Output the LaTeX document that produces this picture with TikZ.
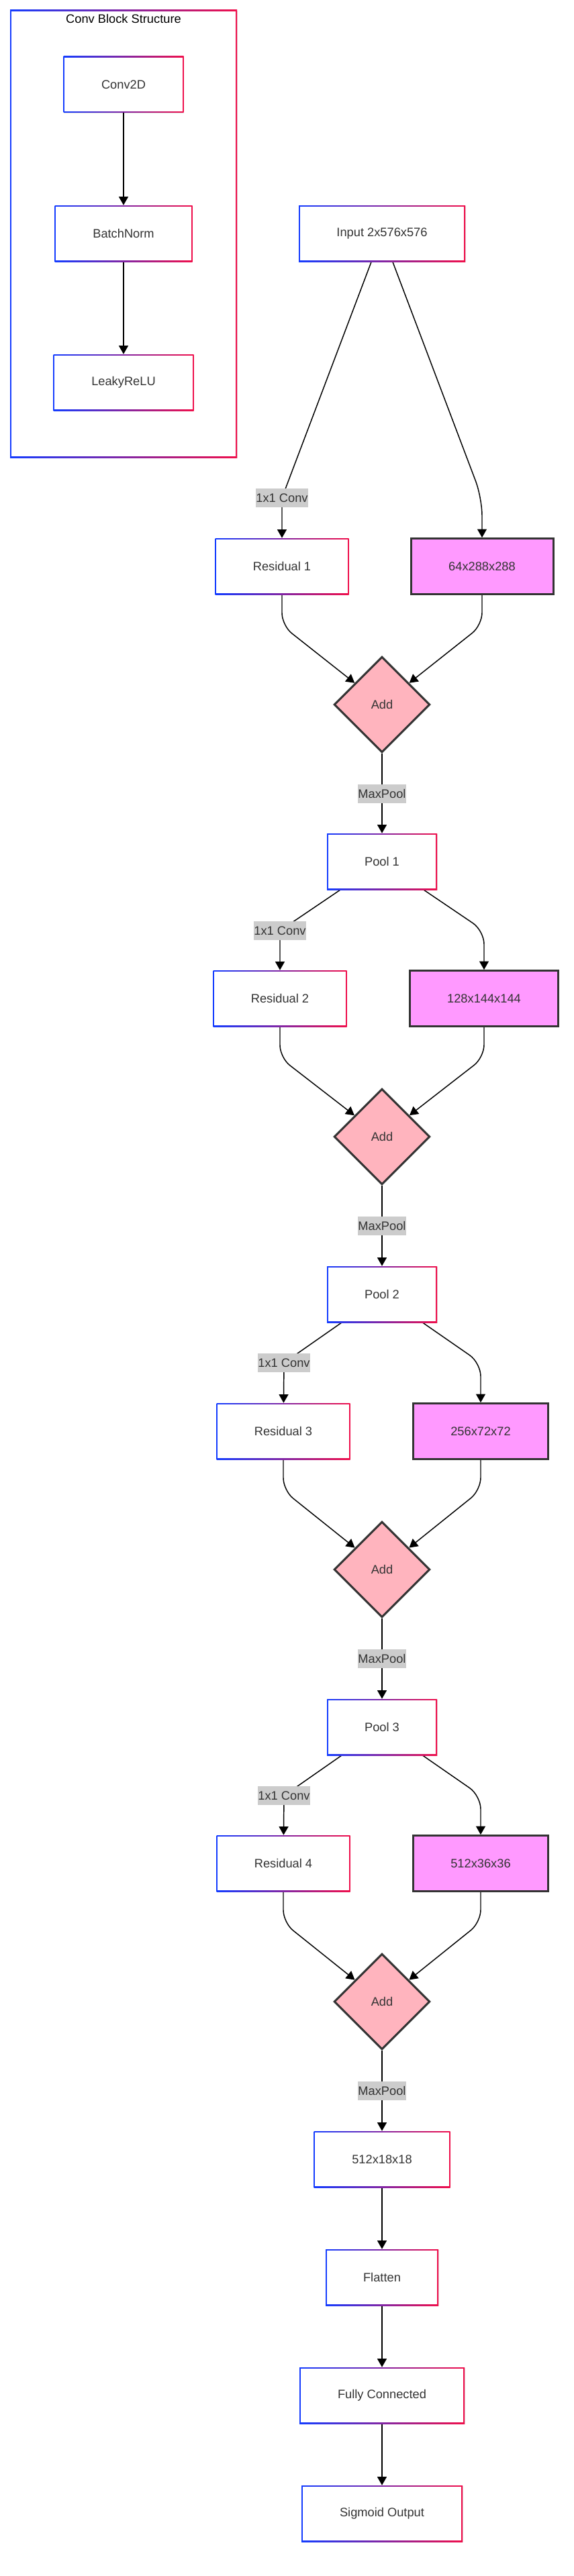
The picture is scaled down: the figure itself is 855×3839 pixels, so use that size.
\documentclass[tikz,border=0pt]{standalone}
\usepackage{fontspec}
\setmainfont{Liberation Sans}
\usetikzlibrary{shapes.geometric,arrows.meta,calc,shadows}
\definecolor{gblue}{RGB}{20,60,255}
\definecolor{gred}{RGB}{240,15,75}
\definecolor{txt}{RGB}{51,51,51}
\definecolor{labgray}{RGB}{204,204,204}
\definecolor{magfill}{RGB}{255,153,255}
\definecolor{addfill}{RGB}{255,180,190}
\definecolor{dark}{RGB}{51,51,51}
\pgfdeclarelayer{back}
\pgfdeclarelayer{edges}
\pgfsetlayers{back,edges,main}
\newcommand\dfont{\fontsize{13.7pt}{16pt}\selectfont}
\begin{document}
\begin{tikzpicture}[x=0.75pt,y=-0.75pt,
  softshadow/.style={drop shadow={shadow xshift=0.5pt,shadow yshift=-0.8pt,opacity=0.12,fill=black}},
  gbox/.style={rectangle, minimum height=63pt, inner sep=0pt, text=txt, font=\dfont, fill=white, softshadow,
    path picture={
      \shade[left color=gblue, right color=gred] (path picture bounding box.south west) rectangle (path picture bounding box.north east);
      \fill[white] ([shift={(1.2pt,1.2pt)}]path picture bounding box.south west) rectangle ([shift={(-1.2pt,-1.2pt)}]path picture bounding box.north east);
    }},
  mbox/.style={rectangle, draw=dark, line width=2.25pt, fill=magfill, minimum height=62pt, inner sep=0pt, text=txt, font=\dfont, softshadow},
  addd/.style={diamond, draw=dark, line width=2.25pt, fill=addfill, minimum width=107pt, minimum height=107pt, inner sep=0pt, text=txt, font=\dfont, softshadow},
  elab/.style={fill=labgray, text=txt, font=\dfont, inner xsep=0.4pt, inner ysep=0pt, minimum height=21pt},
  arr/.style={-{Triangle[length=9.5pt,width=10.5pt]}, line width=1.1pt, black},
]
\useasboundingbox (0,0) rectangle (855,3839);

% cluster
\begin{pgfonlayer}{back}
\node[gbox, minimum width=253.5pt, minimum height=500.25pt] (cluster) at (184,348.5) {};
\end{pgfonlayer}
\node[font=\dfont, text=black] (ctitle) at (184,28) {Conv Block Structure};
\node[gbox, minimum width=134.25pt] (conv2d) at (184,126) {Conv2D};
\node[gbox, minimum width=153.75pt] (bnorm) at (184,348) {BatchNorm};
\node[gbox, minimum width=156.75pt] (lrelu) at (184,570) {LeakyReLU};

% main flow
\node[gbox, minimum width=186pt] (input) at (569,348) {Input 2x576x576};
\node[elab] (lab1) at (420,742) {1x1 Conv};
\node[gbox, minimum width=149.25pt] (res1) at (420,844) {Residual 1};
\node[mbox, minimum width=159pt] (s1) at (718,844) {64x288x288};
\node[addd] (add1) at (569,1050) {Add};
\node[elab] (mp1) at (569,1183) {MaxPool};

\node[gbox, minimum width=123pt] (pool1) at (569,1284) {Pool 1};
\node[elab] (lab2) at (417,1387) {1x1 Conv};
\node[gbox, minimum width=149.25pt] (res2) at (417,1488) {Residual 2};
\node[mbox, minimum width=165.75pt] (s2) at (721,1488) {128x144x144};
\node[addd] (add2) at (569,1694) {Add};
\node[elab] (mp2) at (569,1827) {MaxPool};

\node[gbox, minimum width=123pt] (pool2) at (569,1929) {Pool 2};
\node[elab] (lab3) at (423,2031) {1x1 Conv};
\node[gbox, minimum width=149.25pt] (res3) at (422,2133) {Residual 3};
\node[mbox, minimum width=150.75pt] (s3) at (716,2133) {256x72x72};
\node[addd] (add3) at (569,2339) {Add};
\node[elab] (mp3) at (569,2472) {MaxPool};

\node[gbox, minimum width=123pt] (pool3) at (569,2574) {Pool 3};
\node[elab] (lab4) at (423,2676) {1x1 Conv};
\node[gbox, minimum width=149.25pt] (res4) at (422,2777) {Residual 4};
\node[mbox, minimum width=150.75pt] (s4) at (716,2777) {512x36x36};
\node[addd] (add4) at (569,2983) {Add};
\node[elab] (mp4) at (569,3116) {MaxPool};

\node[gbox, minimum width=152.25pt] (o1) at (569,3218) {512x18x18};
\node[gbox, minimum width=126pt] (flat) at (569,3394) {Flatten};
\node[gbox, minimum width=184.5pt] (fc) at (569,3570) {Fully Connected};
\node[gbox, minimum width=180pt] (sig) at (569,3746) {Sigmoid Output};

\begin{pgfonlayer}{edges}
\draw[arr] (conv2d) -- (bnorm);
\draw[arr] (bnorm) -- (lrelu);

\draw[arr] (input) -- (lab1.center) -- (res1);
\draw[arr, rounded corners=20pt] (input) -- (s1 |- lab1) -- (s1);
\draw[arr, rounded corners=14pt] (res1) -- ($(res1.south)+(0,46)$) -- (add1);
\draw[arr, rounded corners=14pt] (s1) -- ($(s1.south)+(0,45)$) -- (add1);
\draw[arr] (add1) -- (mp1.center) -- (pool1);

\draw[arr] (pool1) -- (lab2.center) -- (res2);
\draw[arr, rounded corners=15pt] (pool1) -- (s2 |- lab2) -- (s2);
\draw[arr, rounded corners=14pt] (res2) -- ($(res2.south)+(0,46)$) -- (add2);
\draw[arr, rounded corners=14pt] (s2) -- ($(s2.south)+(0,45)$) -- (add2);
\draw[arr] (add2) -- (mp2.center) -- (pool2);

\draw[arr] (pool2) -- (lab3.center) -- (res3);
\draw[arr, rounded corners=15pt] (pool2) -- (s3 |- lab3) -- (s3);
\draw[arr, rounded corners=14pt] (res3) -- ($(res3.south)+(0,46)$) -- (add3);
\draw[arr, rounded corners=14pt] (s3) -- ($(s3.south)+(0,45)$) -- (add3);
\draw[arr] (add3) -- (mp3.center) -- (pool3);

\draw[arr] (pool3) -- (lab4.center) -- (res4);
\draw[arr, rounded corners=15pt] (pool3) -- (s4 |- lab4) -- (s4);
\draw[arr, rounded corners=14pt] (res4) -- ($(res4.south)+(0,46)$) -- (add4);
\draw[arr, rounded corners=14pt] (s4) -- ($(s4.south)+(0,45)$) -- (add4);
\draw[arr] (add4) -- (mp4.center) -- (o1);

\draw[arr] (o1) -- (flat);
\draw[arr] (flat) -- (fc);
\draw[arr] (fc) -- (sig);
\end{pgfonlayer}
\end{tikzpicture}
\end{document}
